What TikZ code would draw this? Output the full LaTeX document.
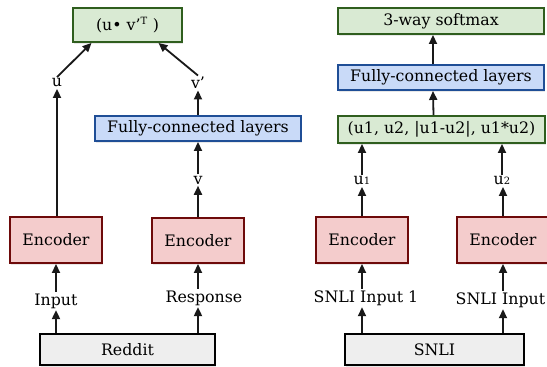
\documentclass[tikz,border=0pt]{standalone}
\usepackage{fontspec}
\setmainfont{DejaVu Serif}
\usetikzlibrary{arrows.meta,shadows}
\definecolor{gfill}{HTML}{D9EAD3}
\definecolor{gline}{HTML}{2F5E1E}
\definecolor{bfill}{HTML}{C9DAF8}
\definecolor{bline}{HTML}{1F4E96}
\definecolor{rfill}{HTML}{F4CCCC}
\definecolor{rline}{HTML}{6E0A0A}
\definecolor{kfill}{HTML}{EEEEEE}
\tikzset{
  box/.style={draw, line width=1.9pt, inner sep=0pt, font=\fontsize{15.8}{18}\selectfont,
    drop shadow={opacity=0.18, shadow xshift=1pt, shadow yshift=-1.5pt}},
  gbox/.style={box, fill=gfill, draw=gline},
  bbox/.style={box, fill=bfill, draw=bline},
  rbox/.style={box, fill=rfill, draw=rline},
  kbox/.style={box, fill=kfill, draw=black},
  lab/.style={inner sep=1.5pt, font=\fontsize{15.8}{18}\selectfont},
  arr/.style={line width=1.8pt, -{Triangle[length=9pt,width=8pt]}, color=black!90},
}
\begin{document}
\begin{tikzpicture}[x=1pt,y=-1pt]
\useasboundingbox (0,0) rectangle (547,367);
\clip (0,0) rectangle (547,367);
% left column
\node[gbox, minimum width=109pt, minimum height=34pt] (top) at (127.5,25) {(u• v’\textsuperscript{\fontsize{10}{10}\selectfont T} )};
\node[bbox, minimum width=206pt, minimum height=25pt] (fcl) at (198,128.5) {Fully-connected layers};
\node[rbox, minimum width=92pt, minimum height=46pt] (encl1) at (56,240) {Encoder};
\node[rbox, minimum width=92pt, minimum height=45pt] (encl2) at (198,240.5) {Encoder};
\node[kbox, minimum width=175pt, minimum height=31pt] (reddit) at (127.5,349.5) {Reddit};
\node[lab] (u) at (57,83) {u};
\node[lab] (vp) at (198,83) {v’};
\node[lab] (v) at (198,180) {v};
\node[lab] (inp) at (56,301) {Input};
\node[lab] (resp) at (204,298) {Response};
% right column
\node[gbox, minimum width=206pt, minimum height=26pt] (soft) at (441,21) {3-way softmax};
\node[bbox, minimum width=206pt, minimum height=25pt] (fcr) at (441,77.5) {Fully-connected layers};
\node[gbox, minimum width=207pt, minimum height=27pt] (cat) at (441.5,129.5) {(u1, u2, |u1-u2|, u1*u2)};
\node[rbox, minimum width=92pt, minimum height=46pt] (encr1) at (362,240) {Encoder};
\node[rbox, minimum width=92pt, minimum height=46pt] (encr2) at (503,240) {Encoder};
\node[kbox, minimum width=179pt, minimum height=31pt] (snli) at (434.5,349.5) {SNLI};
\node[lab] (u1) at (362,181) {u{\fontsize{10}{10}\selectfont 1}};
\node[lab] (u2) at (502,181) {u{\fontsize{10}{10}\selectfont 2}};
\node[lab] (si1) at (366,298) {SNLI Input 1};
\node[lab, anchor=west] (si2) at (454,300) {SNLI Input 2};
% left arrows
\draw[arr] (u.north) -- ([xshift=-36pt]top.south);
\draw[arr] (vp.north) -- ([xshift=31pt]top.south);
\draw[arr] (encl1.north -| u.south) -- (u.south);
\draw[arr] (fcl.north) -- (vp.south);
\draw[arr] (v.north) -- (fcl.south);
\draw[arr] (encl2.north) -- (v.south);
\draw[arr] (inp.north) -- (inp.north |- encl1.south);
\draw[arr] (resp.north -| encl2.south) -- (encl2.south);
\draw[arr] (reddit.north -| inp.south) -- (inp.south);
\draw[arr] (reddit.north -| encl2.south) -- (encl2.south |- resp.south);
% right arrows
\draw[arr] ([xshift=-8pt]cat.north) -- ([xshift=-8pt]fcr.south);
\draw[arr] ([xshift=-8pt]fcr.north) -- ([xshift=-8pt]soft.south);
\draw[arr] (u1.north) -- (u1.north |- cat.south);
\draw[arr] (u2.north) -- (u2.north |- cat.south);
\draw[arr] (encr1.north) -- (encr1.north |- u1.south);
\draw[arr] (encr2.north) -- (encr2.north |- u2.south);
\draw[arr] (encr1.south |- si1.north) -- (encr1.south);
\draw[arr] (encr2.south |- si2.north) -- (encr2.south);
\draw[arr] (snli.north -| encr1.south) -- (encr1.south |- si1.south);
\draw[arr] (snli.north -| encr2.south) -- (encr2.south |- si2.south);
\end{tikzpicture}
\end{document}
